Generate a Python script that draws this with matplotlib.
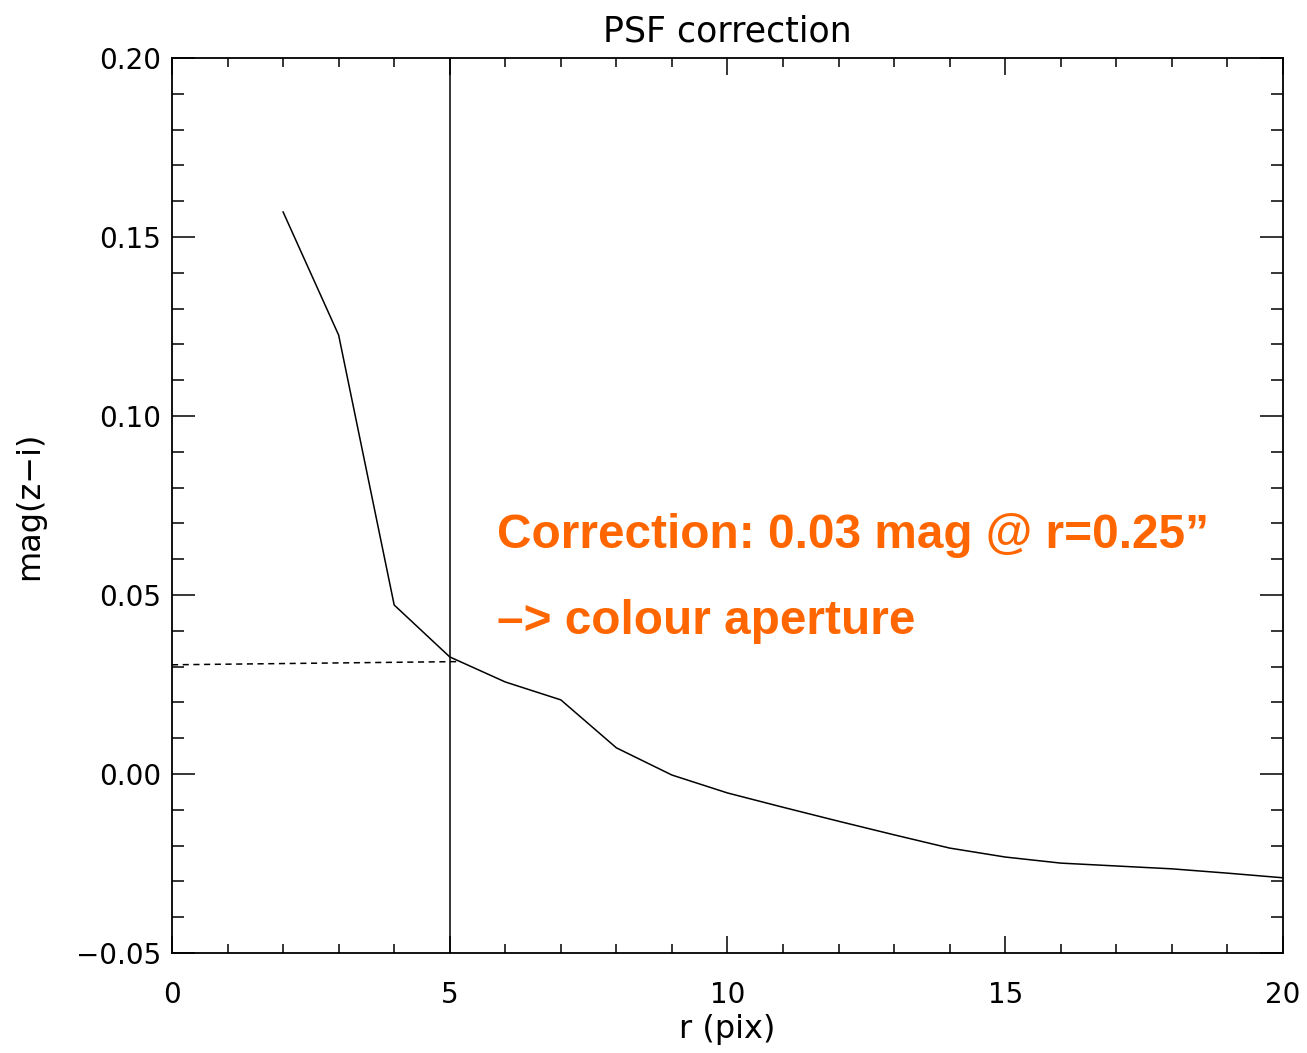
import matplotlib
matplotlib.use('Agg')
import matplotlib.pyplot as plt
from matplotlib.ticker import MultipleLocator, FormatStrFormatter

# PSF correction curve
r_pix = [2, 3, 4, 5, 6, 7, 8, 9, 10, 11, 12, 13, 14, 15, 16, 17, 18, 19, 20]
mag_zi = [0.157, 0.1226, 0.0472, 0.0327, 0.0257, 0.0207, 0.0073, -0.0003,
          -0.0053, -0.0093, -0.0132, -0.0170, -0.0207, -0.0232, -0.0249,
          -0.0257, -0.0265, -0.0277, -0.0290]

r_cut = 5
dash_x = [0, 5.2]
dash_y = [0.0305, 0.0314]

fig = plt.figure(figsize=(13.07, 10.53), dpi=100)
ax = fig.add_axes([0.1316, 0.0950, 0.8500, 0.8499])

ax.plot(r_pix, mag_zi, color='black', lw=1.1)
ax.axvline(r_cut, color='black', lw=1.1)
ax.plot(dash_x, dash_y, color='black', lw=1.1, dashes=(4, 3))

ax.set_xlim(0, 20)
ax.set_ylim(-0.05, 0.20)
ax.xaxis.set_major_locator(MultipleLocator(5))
ax.xaxis.set_minor_locator(MultipleLocator(1))
ax.yaxis.set_major_locator(MultipleLocator(0.05))
ax.yaxis.set_minor_locator(MultipleLocator(0.01))
ax.xaxis.set_major_formatter(FormatStrFormatter('%d'))
ax.yaxis.set_major_formatter(plt.FuncFormatter(lambda v, p: ('%.2f' % v).replace('-', '\u2212')))

ax.tick_params(which='both', direction='in', top=True, right=True, width=1.1,
               labelsize=20, colors='black')
ax.tick_params(axis='x', which='major', length=12, pad=20)
ax.tick_params(axis='x', which='minor', length=6.5)
ax.tick_params(axis='y', which='major', length=16.5, pad=8)
ax.tick_params(axis='y', which='minor', length=8.5)
for s in ax.spines.values():
    s.set_linewidth(1.3)

ax.set_xlabel('r (pix)', fontsize=23, labelpad=4)
ax.set_ylabel('mag(z\u2212i)', fontsize=23, labelpad=22)
ax.set_title('PSF correction', fontsize=25, pad=12)

ax.text(0.2925, 0.4525, 'Correction: 0.03 mag @ r=0.25\u201d', transform=ax.transAxes,
        fontsize=34.4, fontweight='bold', color='#FF6600', family='Liberation Sans',
        ha='left', va='baseline')
ax.text(0.2925, 0.356, '\u2013> colour aperture', transform=ax.transAxes,
        fontsize=34.4, fontweight='bold', color='#FF6600', family='Liberation Sans',
        ha='left', va='baseline')

fig.savefig('out.png', dpi=100)
